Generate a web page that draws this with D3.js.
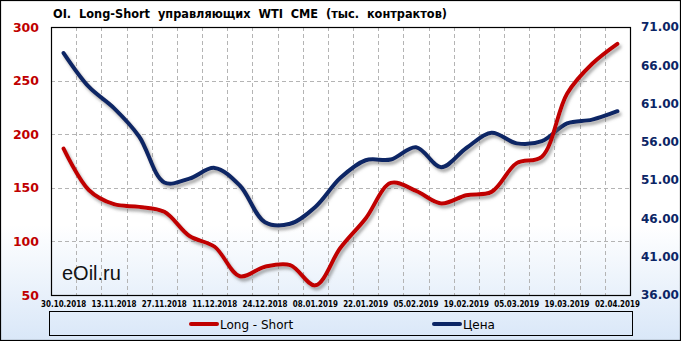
<!DOCTYPE html>
<html><head><meta charset="utf-8">
<script src="https://cdn.jsdelivr.net/npm/d3@7"></script>
<style>html,body{margin:0;padding:0;background:#fff;}svg{display:block;}</style>
</head><body>
<svg id="chart" width="681" height="341"></svg>
<script>
const categories = ["30.10.2018","06.11.2018","13.11.2018","20.11.2018","27.11.2018","04.12.2018","11.12.2018","18.12.2018","24.12.2018","31.12.2018","08.01.2019","15.01.2019","22.01.2019","29.01.2019","05.02.2019","12.02.2019","19.02.2019","26.02.2019","05.03.2019","12.03.2019","19.03.2019","26.03.2019","02.04.2019"];
const longShort = [186.5,148,134.7,132.2,127.6,105,95,67.5,76.4,77.9,59,94,121.4,154.5,147.1,135.4,143.1,146.2,173,179,237.8,265.7,284.3];
const price = [67.6,63.2,60.4,56.7,50.7,51.2,52.6,50.3,45.5,45.3,47.5,51.3,53.6,53.7,55.3,52.7,55.2,57.2,55.8,56.1,58.4,58.9,60.0];
const leftTicks = [50,100,150,200,250,300];
const rightTicks = [36,41,46,51,56,61,66,71];
const title = "OI.  Long-Short  управляющих  WTI  CME  (тыс.  контрактов)";
const seriesNames = ["Long - Short","Цена"];

const W=681,H=341;
const P={l:51,r:630,t:27,b:295};
const RED="#C00000", NAVY="#0B2565";
const svg=d3.select("#chart");
const defs=svg.append("defs");
const g=defs.append("linearGradient").attr("id","bg").attr("x1",0).attr("y1",0).attr("x2",0).attr("y2",1);
g.append("stop").attr("offset","0.66").attr("stop-color","#ffffff");
g.append("stop").attr("offset","1").attr("stop-color","#d9e7f8");
const f=defs.append("filter").attr("id","sh").attr("x","-10%").attr("y","-10%").attr("width","120%").attr("height","130%");
f.append("feDropShadow").attr("dx",2).attr("dy",3).attr("stdDeviation",1.6).attr("flood-color","#666").attr("flood-opacity",0.55);

svg.append("rect").attr("x",0.5).attr("y",0.5).attr("width",W-1).attr("height",H-1).attr("fill","url(#bg)").attr("stroke","#000").attr("stroke-width",1.2);

const x=d3.scaleBand().domain(categories).range([P.l,P.r]);
const yL=d3.scaleLinear().domain([50,300]).range([P.b,P.t]);
const yR=d3.scaleLinear().domain([36,71]).range([P.b,P.t]);
const cx=d=>x(d)+x.bandwidth()/2;

// grid
const grid=svg.append("g").attr("stroke","#b4b4b4").attr("stroke-width",1).attr("stroke-dasharray","4,3");
categories.slice(1).forEach(c=>{const xx=Math.round(x(c))+0.5;grid.append("line").attr("x1",xx).attr("x2",xx).attr("y1",P.t).attr("y2",P.b);});
leftTicks.slice(1,-1).forEach(v=>{const yy=Math.round(yL(v))+0.5;grid.append("line").attr("x1",P.l).attr("x2",P.r).attr("y1",yy).attr("y2",yy);});

svg.append("rect").attr("x",P.l+0.5).attr("y",P.t+0.5).attr("width",P.r-P.l).attr("height",P.b-P.t).attr("fill","none").attr("stroke","#000").attr("stroke-width",1.2);

// watermark
svg.append("text").attr("x",62).attr("y",280).attr("font-family","Liberation Sans, Arial, sans-serif").attr("font-size",20).attr("fill","#111").text("eOil.ru");

// lines
const line=(ys,vals)=>d3.line().x((d,i)=>cx(categories[i])).y(d=>ys(d)).curve(d3.curveCatmullRom.alpha(0.5))(vals);
svg.append("path").attr("d",line(yR,price)).attr("fill","none").attr("stroke",NAVY).attr("stroke-width",4).attr("stroke-linecap","round").attr("filter","url(#sh)");
svg.append("path").attr("d",line(yL,longShort)).attr("fill","none").attr("stroke",RED).attr("stroke-width",4).attr("stroke-linecap","round").attr("filter","url(#sh)");

// axes
const axL=svg.append("g").attr("transform",`translate(${P.l-12},0)`).call(d3.axisLeft(yL).tickValues(leftTicks).tickSize(0).tickPadding(0).tickFormat(d3.format("d")));
axL.select(".domain").remove();
axL.selectAll("text").attr("fill",RED).attr("font-family","DejaVu Sans, Verdana, sans-serif").attr("font-weight","bold").attr("font-size",12.5);
const axR=svg.append("g").attr("transform",`translate(${P.r+11},0)`).call(d3.axisRight(yR).tickValues(rightTicks).tickSize(0).tickPadding(0).tickFormat(d3.format(".2f")));
axR.select(".domain").remove();
axR.selectAll("text").attr("fill",NAVY).attr("font-family","DejaVu Sans, Verdana, sans-serif").attr("font-weight","bold").attr("font-size",12);
const axB=svg.append("g").attr("transform",`translate(0,${P.b+3})`).call(d3.axisBottom(x).tickValues(categories.filter((c,i)=>i%2===0)).tickSize(0).tickPadding(3));
axB.select(".domain").remove();
axB.selectAll("text").attr("fill","#000").attr("font-family","DejaVu Sans, Verdana, sans-serif").attr("font-weight","bold").attr("font-size",8).attr("textLength",45).attr("lengthAdjust","spacingAndGlyphs");

// title
svg.append("text").attr("x",53).attr("y",18).attr("font-family","DejaVu Sans, Verdana, sans-serif").attr("font-weight","bold").attr("font-size",12).attr("textLength",394).attr("lengthAdjust","spacingAndGlyphs").attr("xml:space","preserve").style("white-space","pre").text(title);

// legend
svg.append("rect").attr("x",49.5).attr("y",311.5).attr("width",583).attr("height",24).attr("fill","none").attr("stroke","#000").attr("stroke-width",1);
const leg=[{name:seriesNames[0],c:RED,x0:191},{name:seriesNames[1],c:NAVY,x0:434}];
leg.forEach(o=>{
  svg.append("line").attr("x1",o.x0).attr("x2",o.x0+26).attr("y1",324).attr("y2",324).attr("stroke",o.c).attr("stroke-width",4).attr("stroke-linecap","round");
  svg.append("text").attr("x",o.x0+29).attr("y",328.5).attr("font-family","DejaVu Sans, Verdana, sans-serif").attr("font-size",12).attr("fill","#000").text(o.name);
});
</script>
</body></html>
